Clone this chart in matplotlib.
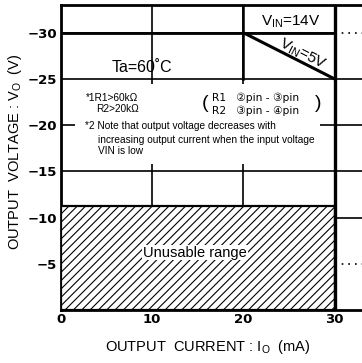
import matplotlib
matplotlib.use("Agg")
import matplotlib.pyplot as plt
from matplotlib.patches import Rectangle

plt.rcParams['font.family'] = ['Liberation Sans', 'DejaVu Sans', 'Noto Sans CJK JP']
plt.rcParams['hatch.linewidth'] = 0.8

# data
x_ticks = [0, 10, 20, 30]
y_ticks = [-5, -10, -15, -20, -25, -30]
y_tick_labels = ["\u22125", "\u221210", "\u221215", "\u221220", "\u221225", "\u221230"]
vin14_x = [0, 30]
vin14_y = [-30, -30]
vin5_x = [20, 30]
vin5_y = [-30, -25]
unusable_x = [0, 30]
unusable_top = -11.2

fig = plt.figure(figsize=(3.62, 3.63), dpi=100)
ax = fig.add_axes([61/362, 1-310/363, 1-61/362, (310-5)/363])
ax.set_xlim(0, 33)
ax.set_ylim(0, -33.0)

# grid lines
for yv in y_ticks:
    ax.plot([0, 30], [yv, yv], color='black', lw=1.2, zorder=1)
    ls = (0, (1, 3)) if yv in (-30, -5) else '-'
    ax.plot([30, 33], [yv, yv], color='black', lw=1.2, ls=ls, zorder=1)
for xv in [10, 20]:
    ax.axvline(xv, color='black', lw=1.2, zorder=1)
ax.plot([20, 20], [-33, -25], color='black', lw=1.8, zorder=2)
ax.axvline(30, color='black', lw=2.4, zorder=4)

# background behind the notes (interrupts grid lines)
ax.add_patch(Rectangle((1.5, -24.5), 26.9, 8.7, facecolor='white', edgecolor='none', zorder=2))

# unusable hatched region
ax.fill_between(unusable_x, 0, unusable_top, facecolor='white', edgecolor='black',
                hatch='////', lw=1.6, zorder=3)
ax.text(14.7, -6.2, "Unusable range", ha='center', va='center', fontsize=10.5,
        bbox=dict(facecolor='white', edgecolor='none', pad=0.5), zorder=5)

# curves
ax.plot(vin14_x, vin14_y, color='black', lw=2.0, zorder=4)
ax.plot(vin5_x, vin5_y, color='black', lw=2.2, zorder=4)

ax.text(25.2, -31.2, "V$_{\\mathregular{IN}}$=14V", ha='center', va='center', fontsize=11, zorder=5)
ax.text(26.5, -27.7, "V$_{\\mathregular{IN}}$=5V", ha='center', va='center', fontsize=11,
        rotation=-27, rotation_mode='anchor', zorder=5)
ax.text(8.9, -26.2, "Ta=60\u02daC", ha='center', va='center', fontsize=11.5, zorder=5)

small = 7.3
ax.text(8.5, -22.9, "*1R1>60k\u03a9", ha='right', va='center', fontsize=small, zorder=5)
ax.text(8.5, -21.7, "R2>20k\u03a9", ha='right', va='center', fontsize=small, zorder=5)
ax.text(15.8, -22.3, "(", ha='center', va='center', fontsize=14, zorder=5)
ax.text(28.2, -22.3, ")", ha='center', va='center', fontsize=14, zorder=5)
ax.text(16.5, -23.0, "R1   \u2461pin - \u2462pin", ha='left', va='center', fontsize=7.7,
        family=['DejaVu Sans', 'Noto Sans CJK JP'], zorder=5)
ax.text(16.5, -21.6, "R2   \u2462pin - \u2463pin", ha='left', va='center', fontsize=7.7,
        family=['DejaVu Sans', 'Noto Sans CJK JP'], zorder=5)
ax.text(2.6, -19.95, "*2 Note that output voltage decreases with",
        ha='left', va='center', fontsize=small, zorder=5)
ax.text(4.1, -18.95, "increasing output current when the input voltage\nVIN is low",
        ha='left', va='top', fontsize=small, linespacing=1.2, zorder=5)

# axes styling
ax.set_xticks(x_ticks)
ax.set_yticks(y_ticks)
ax.set_yticklabels(y_tick_labels)
ax.tick_params(axis='both', length=0, labelsize=9.5)
ax.tick_params(axis='y', pad=3)
ax.tick_params(axis='x', pad=2)
for lab in ax.get_xticklabels() + ax.get_yticklabels():
    lab.set_fontweight('bold')
    lab.set_family('DejaVu Sans')
for s in ['left', 'bottom', 'top']:
    ax.spines[s].set_linewidth(2.0)
ax.spines['right'].set_visible(False)

fig.text(208/362, 1-347/363, "OUTPUT  CURRENT : I$_\\mathregular{O}$  (mA)", ha='center', va='center', fontsize=10.5)
fig.text(15/362, 1-152/363, "OUTPUT  VOLTAGE : V$_\\mathregular{O}$  (V)", ha='center', va='center',
         fontsize=10.5, rotation=90)

fig.savefig("out.png", dpi=100)
